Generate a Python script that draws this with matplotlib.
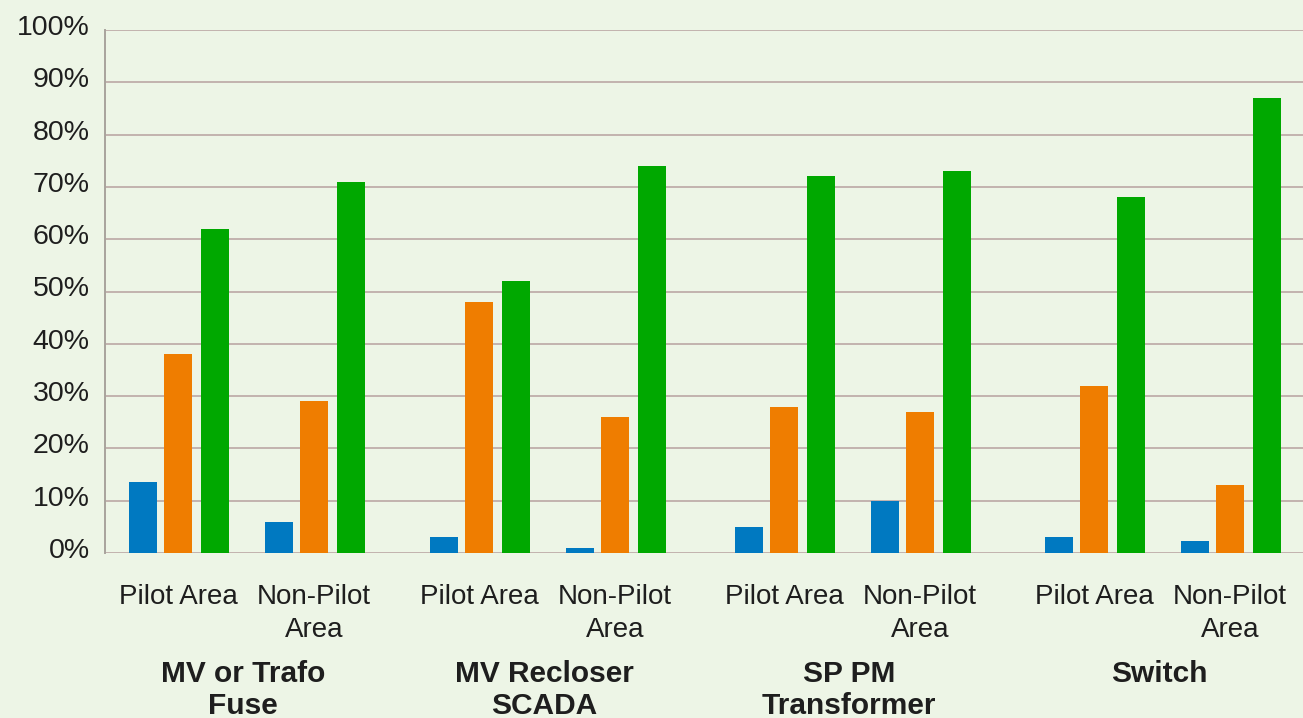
import matplotlib.pyplot as plt
import matplotlib.transforms as mtransforms

# Device groups and the two survey areas per group
groups = ["MV or Trafo\nFuse", "MV Recloser\nSCADA", "SP PM\nTransformer", "Switch"]
areas = ["Pilot Area", "Non-Pilot\nArea"]

# Shares (%) per group, ordered as [pilot, non-pilot]
blue = [[13.5, 6], [3, 1], [5, 10], [3, 2.2]]
orange = [[38, 29], [48, 26], [28, 27], [32, 13]]
green = [[62, 71], [52, 74], [72, 73], [68, 87]]

series = [(blue, "#0079C1"), (orange, "#EF7D00"), (green, "#00A800")]
bg = "#EDF5E6"
text_col = "#1E1E1E"

plt.rcParams["font.family"] = ["Liberation Sans", "DejaVu Sans"]

fig = plt.figure(figsize=(13.03, 7.18), dpi=100, facecolor=bg)
ax = fig.add_axes([105 / 1303, 165 / 718, 1 - 105 / 1303, 523 / 718])
ax.set_facecolor(bg)

# layout in pixel-like units
group_x = [178, 479, 784, 1094]
area_step = 136
bar_offsets = [-35, 0, 37]
bar_w = 28

centers = []
for g in range(len(groups)):
    for a in range(len(areas)):
        xc = group_x[g] + a * area_step
        centers.append(xc)
        for (vals, col), off in zip(series, bar_offsets):
            ax.bar(xc + off, vals[g][a], width=bar_w, color=col, zorder=3)

ax.set_xlim(105, 1303)
ax.set_ylim(0, 100)

# horizontal grid
for v in range(0, 101, 10):
    ax.axhline(v, color="#BFAEAA", lw=1.3, zorder=1)

for s in ["top", "right", "bottom"]:
    ax.spines[s].set_visible(False)
ax.spines["left"].set_color("#A9A39D")
ax.spines["left"].set_linewidth(1.4)

ax.set_yticks(range(0, 101, 10))
ax.set_yticklabels([f"{v}%" for v in range(0, 101, 10)], fontsize=20.5, color=text_col)
ax.tick_params(axis="y", length=0, pad=11)
up = mtransforms.ScaledTranslation(0, 5 / 100, fig.dpi_scale_trans)
for lab in ax.get_yticklabels():
    lab.set_transform(lab.get_transform() + up)
ax.set_xticks([])

# area and group labels under the axis
xt = ax.get_xaxis_transform()
for i, xc in enumerate(centers):
    ax.text(xc, -0.06, areas[i % 2], transform=xt, ha="center", va="top",
            fontsize=20, color=text_col, linespacing=1.32)
for g in range(len(groups)):
    xm = (centers[2 * g] + centers[2 * g + 1]) / 2 - 3
    ax.text(xm, -0.205, groups[g], transform=xt, ha="center", va="top",
            fontsize=21.5, fontweight="bold", color=text_col, linespacing=1.15)

fig.savefig("out.png", dpi=100, facecolor=bg)
